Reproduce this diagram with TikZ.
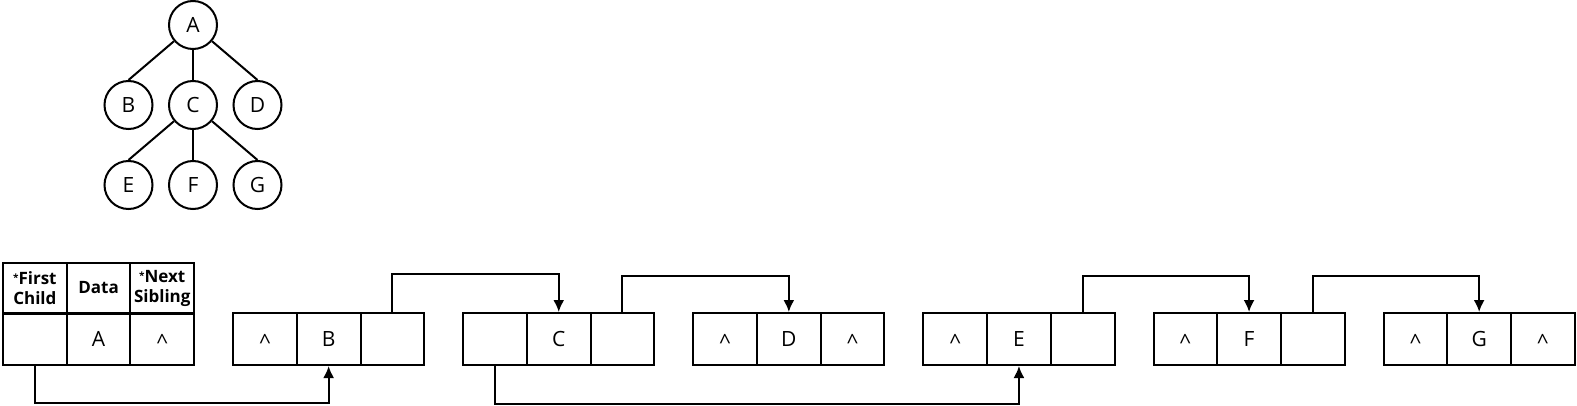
\documentclass[tikz,border=0pt]{standalone}
\usepackage{fontspec}
\setmainfont{Open Sans}
\usetikzlibrary{positioning, trees, arrows.meta}
\newcommand{\nil}{\raisebox{-3pt}{\textasciicircum}}
\newcommand{\ptr}{\raisebox{3pt}{\fontsize{10}{10}\selectfont *}}

\begin{document}
\begin{tikzpicture}[
      x = 1pt, y = 1pt,
      on grid,
      node distance = 63.7pt,
      line width = 2pt,
      font = \fontsize{21}{25}\selectfont,
      level distance = 80pt,
      sibling distance = 64.5pt,
      edge from parent path = {(\tikzparentnode) -- (\tikzchildnode.north)},
      vertex/.style = {circle, draw, minimum size = 48pt, inner sep = 0pt},
      box/.style = {draw, minimum width = 63.7pt, minimum height = 52pt, inner sep = 0pt},
      cell/.style = {box, text height = 15pt, text depth = 0pt},
      head/.style = {box, minimum height = 51pt, align = center, font = \bfseries\fontsize{17}{20}\selectfont},
      link/.style = {-{Latex[length = 12pt, width = 11pt]}}]

      \useasboundingbox (0, 0) rectangle (1577, 405);

      \node [vertex] (A) at (193, 380) {A}
      child {
        node [vertex] (B) {B}
      }
      child {
        node [vertex] (C) {C}
        child {
          node [vertex] (E) {E}
        }
        child {
          node [vertex] (F) {F}
        }
        child {
          node [vertex] (G) {G}
        }
      }
      child {
        node [vertex] (D) {D}
      }
      ;

      \foreach \n/\k/\f/\s in {A/0/{}/\nil, B/1/\nil/{}, C/2/{}/{}, D/3/\nil/\nil,
                               E/4/\nil/{}, F/5/\nil/{}, G/6/\nil/\nil} {
        \node [cell] (\n-f) at (34.85 + 230.1*\k, 66) {\f};
        \node [cell, right = of \n-f] (\n-d) {\n};
        \node [cell, right = of \n-d] (\n-s) {\s};
      }

      \node [head, above = 51pt of A-f] (first) {\ptr First\\Child};
      \node [head, above = 51pt of A-d] (data) {Data};
      \node [head, above = 51pt of A-s] (next) {\ptr Next\\Sibling};

      \draw [link] (A-f.south) -- ++(0, -37) -| (B-d.south);
      \draw [link] (B-s.north) -- ++(0, 38) -| (C-d.north);
      \draw [link] (C-s.north) -- ++(0, 36) -| (D-d.north);
      \draw [link] (C-f.south) -- ++(0, -37.5) -| (E-d.south);
      \draw [link] (E-s.north) -- ++(0, 36) -| (F-d.north);
      \draw [link] (F-s.north) -- ++(0, 36) -| (G-d.north);
  \end{tikzpicture}
\end{document}
